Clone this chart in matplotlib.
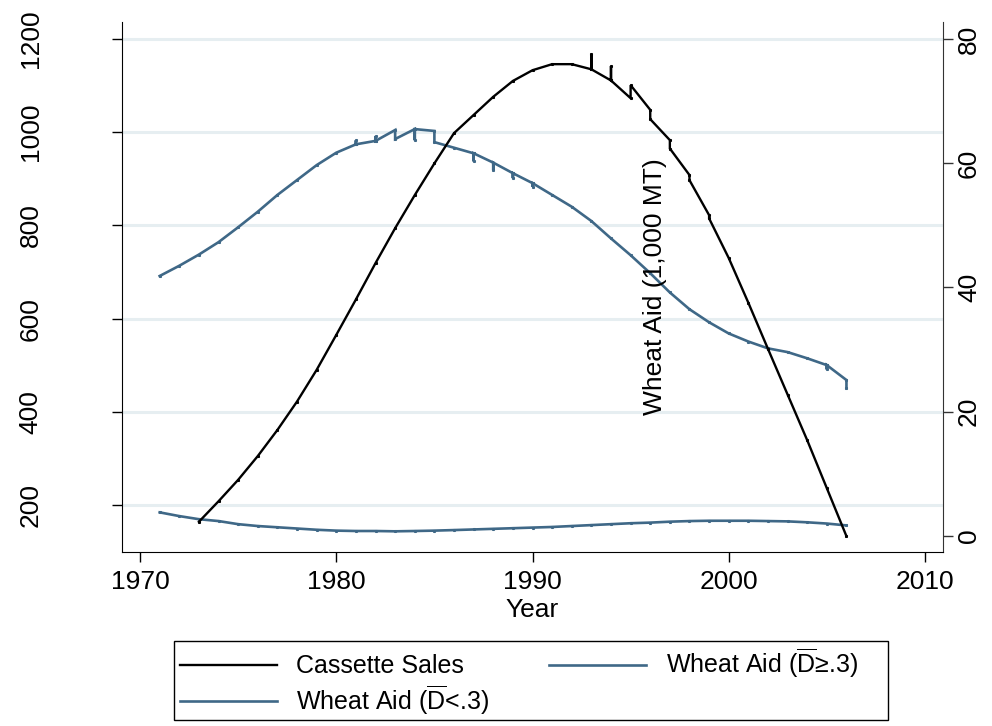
import matplotlib
matplotlib.use("Agg")
import matplotlib.pyplot as plt
import matplotlib.transforms as mtransforms
from matplotlib.patches import Rectangle

plt.rcParams['font.family'] = ['Liberation Sans', 'DejaVu Sans']
plt.rcParams['mathtext.fontset'] = 'custom'
plt.rcParams['mathtext.rm'] = 'Liberation Sans'
plt.rcParams['mathtext.it'] = 'Liberation Sans:italic'

# ---------------- data ----------------
cassette_years = [1973, 1974, 1975, 1976, 1977, 1978, 1979, 1980, 1981, 1982, 1983, 1984,
                  1985, 1986, 1987, 1988, 1989, 1990, 1991, 1992, 1993, 1993, 1993,
                  1994, 1994, 1994, 1995, 1995, 1996, 1996, 1997, 1997, 1998, 1998,
                  1999, 1999, 2000, 2001, 2002, 2003, 2004, 2005, 2006]
cassette_sales = [164, 208, 254, 305, 361, 422, 490, 565, 641, 719, 794, 865,
                  933, 998, 1037, 1076, 1110, 1133, 1146, 1146, 1135, 1168, 1135,
                  1111, 1142, 1111, 1073, 1101, 1048, 1028, 983, 965, 908, 897,
                  822, 815, 730, 634, 535, 437, 339, 236, 133]

wheat_hi_years = [1971, 1972, 1973, 1974, 1975, 1976, 1977, 1978, 1979, 1980,
                  1981, 1981, 1981, 1982, 1982, 1982, 1983, 1983, 1984, 1984, 1984,
                  1985, 1985, 1986, 1987, 1987, 1987, 1988, 1988, 1988, 1989, 1989, 1989,
                  1990, 1990, 1990, 1991, 1992, 1993, 1994, 1995, 1996, 1997, 1998, 1999,
                  2000, 2001, 2002, 2003, 2004, 2005, 2005, 2005, 2006, 2006]
wheat_hi = [41.85, 43.5, 45.3, 47.3, 49.7, 52.2, 54.9, 57.3, 59.7, 61.7,
            63.05, 63.7, 63.05, 63.6, 64.4, 63.6, 65.35, 63.9, 65.5, 63.7, 65.5,
            65.2, 63.4, 62.5, 61.6, 60.3, 61.6, 60.1, 58.9, 60.1, 58.4, 57.6, 58.4,
            56.8, 56.2, 56.8, 54.9, 53.0, 50.7, 47.9, 45.2, 42.3, 39.2, 36.5, 34.4,
            32.6, 31.3, 30.2, 29.6, 28.6, 27.5, 26.8, 27.5, 25.1, 23.8]

wheat_lo_years = list(range(1971, 2007))
wheat_lo = [3.8, 3.2, 2.7, 2.4, 1.9, 1.6, 1.4, 1.2, 1.0, 0.86,
            0.8, 0.8, 0.75, 0.8, 0.86, 0.95, 1.05, 1.15, 1.25, 1.35,
            1.45, 1.6, 1.75, 1.9, 2.05, 2.15, 2.3, 2.4, 2.45, 2.45,
            2.45, 2.4, 2.35, 2.2, 2.0, 1.7]

left_ticks = [200, 400, 600, 800, 1000, 1200]
right_ticks = [0, 20, 40, 60, 80]
x_ticks = [1970, 1980, 1990, 2000, 2010]

label_cassette = 'Cassette Sales'
label_hi = r'Wheat Aid ($\overline{\mathrm{D}}$≥.3)'
label_lo = r'Wheat Aid ($\overline{\mathrm{D}}$<.3)'

# ---------------- figure ----------------
BLUE = '#3f6887'
GRID = '#e6eef1'
FS = 19

fig = plt.figure(figsize=(9.92, 7.26), dpi=100)
ax1 = fig.add_axes([122/992, 1-552/726, (943-122)/992, (552-22)/726])
ax2 = ax1.twinx()
ax1.set_zorder(3)
ax2.set_zorder(2)
ax1.patch.set_visible(False)

ax1.set_xlim(1969.08, 2010.92)
ax1.set_ylim(99.1, 1236.5)
ax2.set_ylim(-2.58, 82.74)

# gridlines at left-axis ticks, drawn beneath everything
blend = mtransforms.blended_transform_factory(ax2.transAxes, ax1.transData)
for v in left_ticks:
    ax2.plot([0, 1], [v, v], transform=blend, color=GRID, lw=2.2, zorder=0)

l_hi, = ax2.plot(wheat_hi_years, wheat_hi, color=BLUE, lw=1.9, marker='s', ms=1.2,
                 solid_joinstyle='miter', label=label_hi)
l_lo, = ax2.plot(wheat_lo_years, wheat_lo, color=BLUE, lw=1.9, marker='s', ms=1.2,
                 label=label_lo)
l_cs, = ax1.plot(cassette_years, cassette_sales, color='black', lw=1.7, marker='s', ms=1.2,
                 solid_joinstyle='miter', label=label_cassette)

for ax in (ax1, ax2):
    ax.spines['top'].set_visible(False)
ax1.spines['right'].set_visible(False)
ax2.spines['left'].set_visible(False)
ax2.spines['bottom'].set_visible(False)
ax1.spines['left'].set_color('black')
ax1.spines['bottom'].set_color('black')
ax2.spines['right'].set_color('#333333')

ax1.set_xticks(x_ticks)
ax1.set_xticklabels([str(t) for t in x_ticks], fontsize=FS)
ax1.set_yticks(left_ticks)
ax1.set_yticklabels([str(t) for t in left_ticks], fontsize=FS, rotation=90, va='center')
ax2.set_yticks(right_ticks)
ax2.set_yticklabels([str(t) for t in right_ticks], fontsize=FS, rotation=90, va='center')

ax1.tick_params(axis='x', length=7, width=1, pad=6)
ax1.tick_params(axis='y', length=7, width=1, pad=50)
ax2.tick_params(axis='y', length=7, width=1, pad=3, color='#333333')

ax1.set_xlabel('Year', fontsize=FS, labelpad=3)
ax1.text(0.649, 0.5, 'Wheat Aid (1,000 MT)', transform=ax1.transAxes, rotation=90,
         ha='center', va='center', fontsize=FS)

# legend frame drawn as a figure rectangle
fig.patches.append(Rectangle((174/992, 1-720/726), (888-174)/992, (720-641)/726,
                             transform=fig.transFigure, fill=False,
                             edgecolor='black', linewidth=1.0))
LFS = 18
leg = fig.legend([l_cs, l_lo, l_hi], [label_cassette, label_lo, label_hi],
                 loc='upper left', bbox_to_anchor=(174/992, 1-641/726),
                 ncol=2, fontsize=LFS, frameon=False, borderaxespad=0,
                 borderpad=0.25, handlelength=3.85, handletextpad=0.8,
                 columnspacing=2.4, labelspacing=0.2)
for h in leg.legend_handles:
    h.set_marker('')

fig.savefig('out.png', dpi=100)
